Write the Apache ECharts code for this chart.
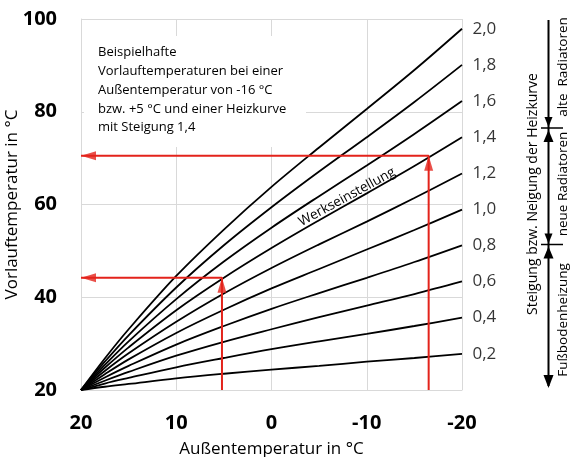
<!DOCTYPE html>
<html><head><meta charset="utf-8">
<script src="https://cdn.jsdelivr.net/npm/echarts@6/dist/echarts.min.js"></script>
<style>html,body{margin:0;padding:0;background:#fff}#c{width:571px;height:457px}</style>
</head><body><div id="c"></div><script>
// Außentemperatur points (°C)
const xPoints = [20, 17.5, 15, 10, 5, 0, -5, -10, -15, -20];
// Vorlauftemperatur per Heizkurve
const curve02 = [20, 20.7, 21.3, 22.5, 23.5, 24.4, 25.2, 26.1, 26.9, 27.8];
const curve04 = [20, 21.4, 22.6, 24.9, 26.9, 28.8, 30.5, 32.1, 33.8, 35.6];
const curve06 = [20, 22.0, 23.9, 27.4, 30.4, 33.1, 35.7, 38.2, 40.7, 43.4];
const curve08 = [20, 22.7, 25.2, 29.8, 33.8, 37.5, 40.9, 44.2, 47.6, 51.2];
const curve10 = [20, 23.4, 26.6, 32.3, 37.3, 41.9, 46.1, 50.3, 54.5, 58.9];
const curve12 = [20, 24.1, 27.9, 34.7, 40.8, 46.3, 51.4, 56.3, 61.4, 66.7];
const curve14 = [20, 24.8, 29.2, 37.2, 44.2, 50.6, 56.6, 62.4, 68.3, 74.5];
const curve16 = [20, 25.4, 30.5, 39.6, 47.7, 55.0, 61.8, 68.4, 75.2, 82.3];
const curve18 = [20, 26.1, 31.8, 42.1, 51.2, 59.4, 67.1, 74.5, 82.1, 90.1];
const curve20 = [20, 26.8, 33.1, 44.6, 54.6, 63.8, 72.3, 80.6, 89.0, 97.9];
const slopeLabels = ['0,2', '0,4', '0,6', '0,8', '1,0', '1,2', '1,4', '1,6', '1,8', '2,0'];
const xTicks = [20, 10, 0, -10, -20];
const yTicks = [20, 40, 60, 80, 100];
// example readings (red arrows)
const arrowX = [5.2, -16.5];
const arrowY = [44.2, 70.5];

const curves = [curve02, curve04, curve06, curve08, curve10, curve12, curve14, curve16, curve18, curve20];
const FONT = '"Open Sans", "Noto Sans", sans-serif';
const RED = '#e3231b';
const GRIDC = '#d9d9d9';
const last = xPoints.length - 1;

const series = curves.map((c, i) => ({
  type: 'line',
  data: xPoints.map((x, j) => [x, c[j]]),
  smooth: 0.35,
  showSymbol: false,
  symbol: 'none',
  silent: true,
  z: 3,
  lineStyle: { color: '#000', width: 1.8 }
}));

// slope labels at the curve ends
series.push({
  type: 'scatter', silent: true, clip: false, z: 6,
  symbolSize: 1, itemStyle: { color: 'rgba(0,0,0,0)' },
  label: {
    show: true, position: 'right', distance: 10,
    fontFamily: FONT, fontSize: 17, color: '#000',
    formatter: p => slopeLabels[p.dataIndex]
  },
  data: curves.map(c => [xPoints[last], c[last]])
});

arrowX.forEach((x, i) => {
  series.push({
    type: 'line', silent: true, symbol: 'none', showSymbol: false, clip: false, z: 4,
    data: [[x, yTicks[0]], [x, arrowY[i]], [xTicks[0], arrowY[i]]],
    lineStyle: { color: RED, width: 2 }
  });
});
series.push({
  type: 'scatter', silent: true, clip: false, z: 5,
  symbol: 'triangle', symbolSize: [9, 15], symbolOffset: [0, 7.5],
  itemStyle: { color: RED },
  data: arrowX.map((x, i) => [x, arrowY[i]])
});
series.push({
  type: 'scatter', silent: true, clip: false, z: 5,
  symbol: 'triangle', symbolSize: [9, 15], symbolOffset: [7.5, 0], symbolRotate: 90,
  itemStyle: { color: RED },
  data: arrowY.map(y => [xTicks[0], y])
});

const txt = (text, x, y, size, rot) => ({
  type: 'text', x: x, y: y, rotation: rot || 0, z: 10, silent: true,
  style: { text: text, fontFamily: FONT, fontSize: size, fill: '#000', align: 'center', verticalAlign: 'middle' }
});
const tri = (tipX, tipY, dir, w, h) => ({
  type: 'polygon', z: 10, silent: true,
  shape: { points: dir === 'down'
    ? [[tipX - w / 2, tipY - h], [tipX + w / 2, tipY - h], [tipX, tipY]]
    : [[tipX - w / 2, tipY + h], [tipX + w / 2, tipY + h], [tipX, tipY]] },
  style: { fill: '#000' }
});
const ln = (x1, y1, x2, y2, w) => ({
  type: 'line', z: 10, silent: true,
  shape: { x1: x1, y1: y1, x2: x2, y2: y2 }, style: { stroke: '#000', lineWidth: w }
});

const graphic = [
  { type: 'rect', z: 1, silent: true, shape: { x: 84, y: 36, width: 222, height: 111 }, style: { fill: '#fff' } },
  { type: 'text', z: 10, silent: true, x: 98, y: 43,
    style: { text: 'Beispielhafte\nVorlauftemperaturen bei einer\nAußentemperatur von -16 °C\nbzw. +5 °C und einer Heizkurve\nmit Steigung 1,4',
      fontFamily: FONT, fontSize: 13, lineHeight: 18.8, fill: '#000' } },
  txt('Werkseinstellung', 347, 197, 13.5, 0.50),
  ln(548.5, 20, 548.5, 386, 2),
  ln(541, 128, 563, 128, 1.5),
  ln(541, 244.5, 563, 244.5, 1.5),
  tri(548.5, 127, 'down', 8, 10),
  tri(548.5, 130, 'up', 10, 12),
  tri(548.5, 243.5, 'down', 8, 10),
  tri(548.5, 246.5, 'up', 10, 12),
  tri(548.5, 388, 'down', 10, 13),
  txt('Steigung bzw. Neigung der Heizkurve', 533, 194, 14, Math.PI / 2),
  txt('alte  Radiatoren', 563, 67, 13.5, Math.PI / 2),
  txt('neue Radiatoren', 563, 184, 13.5, Math.PI / 2),
  txt('Fußbodenheizung', 563, 320, 13.5, Math.PI / 2)
];

const chart = echarts.init(document.getElementById('c'), null, { renderer: 'canvas' });
chart.setOption({
  animation: false,
  backgroundColor: '#fff',
  grid: { left: 81, right: 109, top: 19, bottom: 67, containLabel: false, outerBoundsMode: 'none' },
  xAxis: {
    type: 'value', inverse: true, min: xTicks[4], max: xTicks[0], interval: 10,
    name: 'Außentemperatur in °C', nameLocation: 'middle', nameGap: 51, nameMoveOverlap: false,
    nameTextStyle: { fontFamily: FONT, fontSize: 17, color: '#000' },
    axisLine: { show: true, onZero: false, lineStyle: { color: GRIDC, width: 1 } },
    axisTick: { show: false },
    axisLabel: { fontFamily: FONT, fontSize: 20, fontWeight: 'bold', color: '#000', margin: 23 },
    splitLine: { show: true, lineStyle: { color: GRIDC, width: 1 } }
  },
  yAxis: {
    type: 'value', min: yTicks[0], max: yTicks[4], interval: 20,
    name: 'Vorlauftemperatur in °C', nameLocation: 'middle', nameGap: 60, nameMoveOverlap: false,
    nameTextStyle: { fontFamily: FONT, fontSize: 17, color: '#000' },
    axisLine: { show: true, onZero: false, lineStyle: { color: GRIDC, width: 1 } },
    axisTick: { show: false },
    axisLabel: { fontFamily: FONT, fontSize: 20, fontWeight: 'bold', color: '#000', margin: 24 },
    splitLine: { show: true, lineStyle: { color: GRIDC, width: 1 } }
  },
  graphic: graphic,
  series: series
});
</script></body></html>
